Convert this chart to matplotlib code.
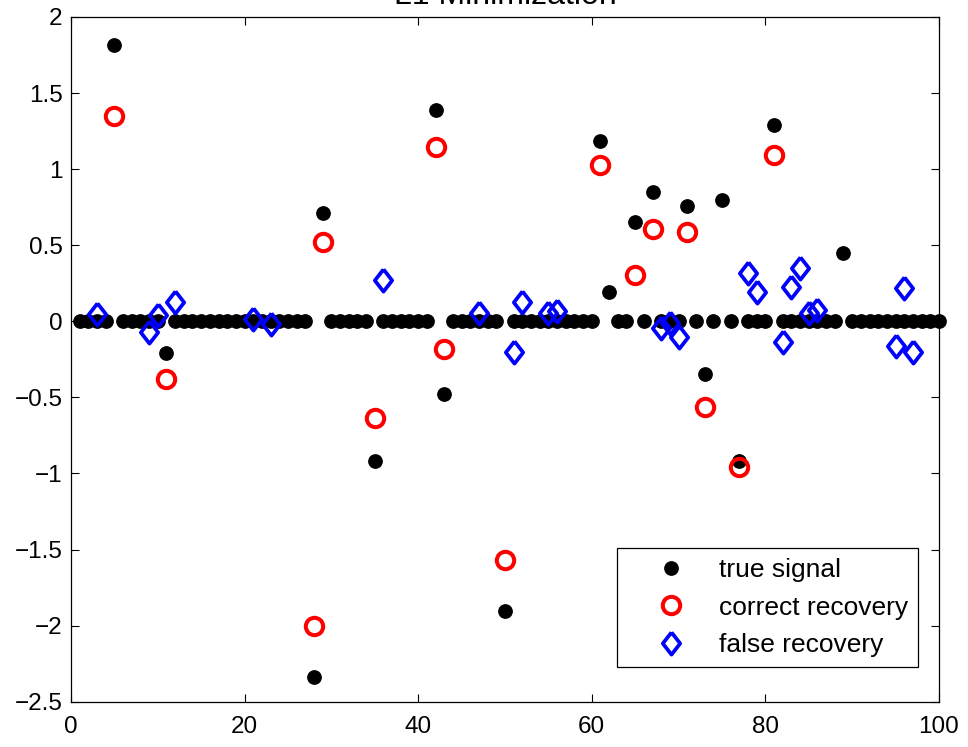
import numpy as np
import matplotlib
matplotlib.use('Agg')
from matplotlib import pyplot as plt

plt.rcParams['font.family'] = ['Liberation Sans', 'DejaVu Sans']

n = 100
# true signal: nonzero entries (everything else is 0)
support_idx = [5, 11, 28, 29, 35, 42, 43, 50, 61, 62, 65, 67, 71, 73, 75, 77, 81, 89]
support_val = [1.815, -0.21, -2.34, 0.71, -0.915, 1.39, -0.48, -1.905, 1.185, 0.19,
               0.655, 0.85, 0.755, -0.345, 0.795, -0.92, 1.29, 0.45]

# recovered values on the true support
correct_idx = [5, 11, 28, 29, 35, 42, 43, 50, 61, 65, 67, 71, 73, 77, 81]
correct_val = [1.35, -0.38, -2.0, 0.52, -0.635, 1.145, -0.18, -1.57, 1.025, 0.305,
               0.605, 0.59, -0.565, -0.96, 1.09]

# recovered values off the support
false_idx = [3, 9, 10, 12, 21, 23, 36, 47, 51, 52, 55, 56, 68, 69, 70,
             78, 79, 82, 83, 84, 85, 86, 95, 96, 97]
false_val = [0.05, -0.07, 0.04, 0.125, 0.015, -0.015, 0.27, 0.055, -0.2, 0.13,
             0.057, 0.07, -0.045, -0.01, -0.105, 0.316, 0.19, -0.133, 0.224, 0.353,
             0.053, 0.075, -0.162, 0.222, -0.203]

x = np.arange(1, n + 1)
signal = np.zeros(n)
signal[np.array(support_idx) - 1] = support_val

diamond = [(0, 1), (0.78, 0), (0, -1), (-0.78, 0), (0, 1)]

fig = plt.figure(figsize=(9.68, 7.47), dpi=100)
ax = fig.add_axes([0.0733, 0.0606, 0.8967, 0.9167])

ax.plot(x, signal, 'o', color='black', markersize=9.6, linestyle='none',
        label='true signal', clip_on=False, zorder=3)
ax.plot(correct_idx, correct_val, 'o', markerfacecolor='none', markeredgecolor='red',
        markersize=12.5, markeredgewidth=2.9, linestyle='none',
        label='correct recovery', clip_on=False, zorder=4)
ax.plot(false_idx, false_val, marker=diamond, markerfacecolor='none', markeredgecolor='blue',
        markersize=16, markeredgewidth=2.7, linestyle='none',
        label='false recovery', clip_on=False, zorder=5)

ax.set_xlim(0, 100)
ax.set_ylim(-2.5, 2)
ax.set_xticks(np.arange(0, 101, 20))
ax.set_yticks(np.arange(-2.5, 2.01, 0.5))
ax.set_yticklabels(['\u22122.5', '\u22122', '\u22121.5', '\u22121', '\u22120.5',
                    '0', '0.5', '1', '1.5', '2'])
ax.tick_params(direction='in', length=6, width=0.8, top=True, right=True,
               labelsize=17.5)
ax.tick_params(axis='x', pad=10)
ax.tick_params(axis='y', pad=6)
for s in ax.spines.values():
    s.set_linewidth(0.9)

ax.set_title('L1 Minimization', fontsize=23, pad=9)

leg = ax.legend(loc='lower right', bbox_to_anchor=(0.976, 0.0507), borderaxespad=0,
                fontsize=19, fancybox=False, framealpha=1, edgecolor='black',
                handlelength=3.4, handletextpad=0.11, borderpad=0.37,
                labelspacing=0.52, numpoints=1)
leg.get_frame().set_linewidth(0.9)

plt.savefig('out.png', dpi=100)
